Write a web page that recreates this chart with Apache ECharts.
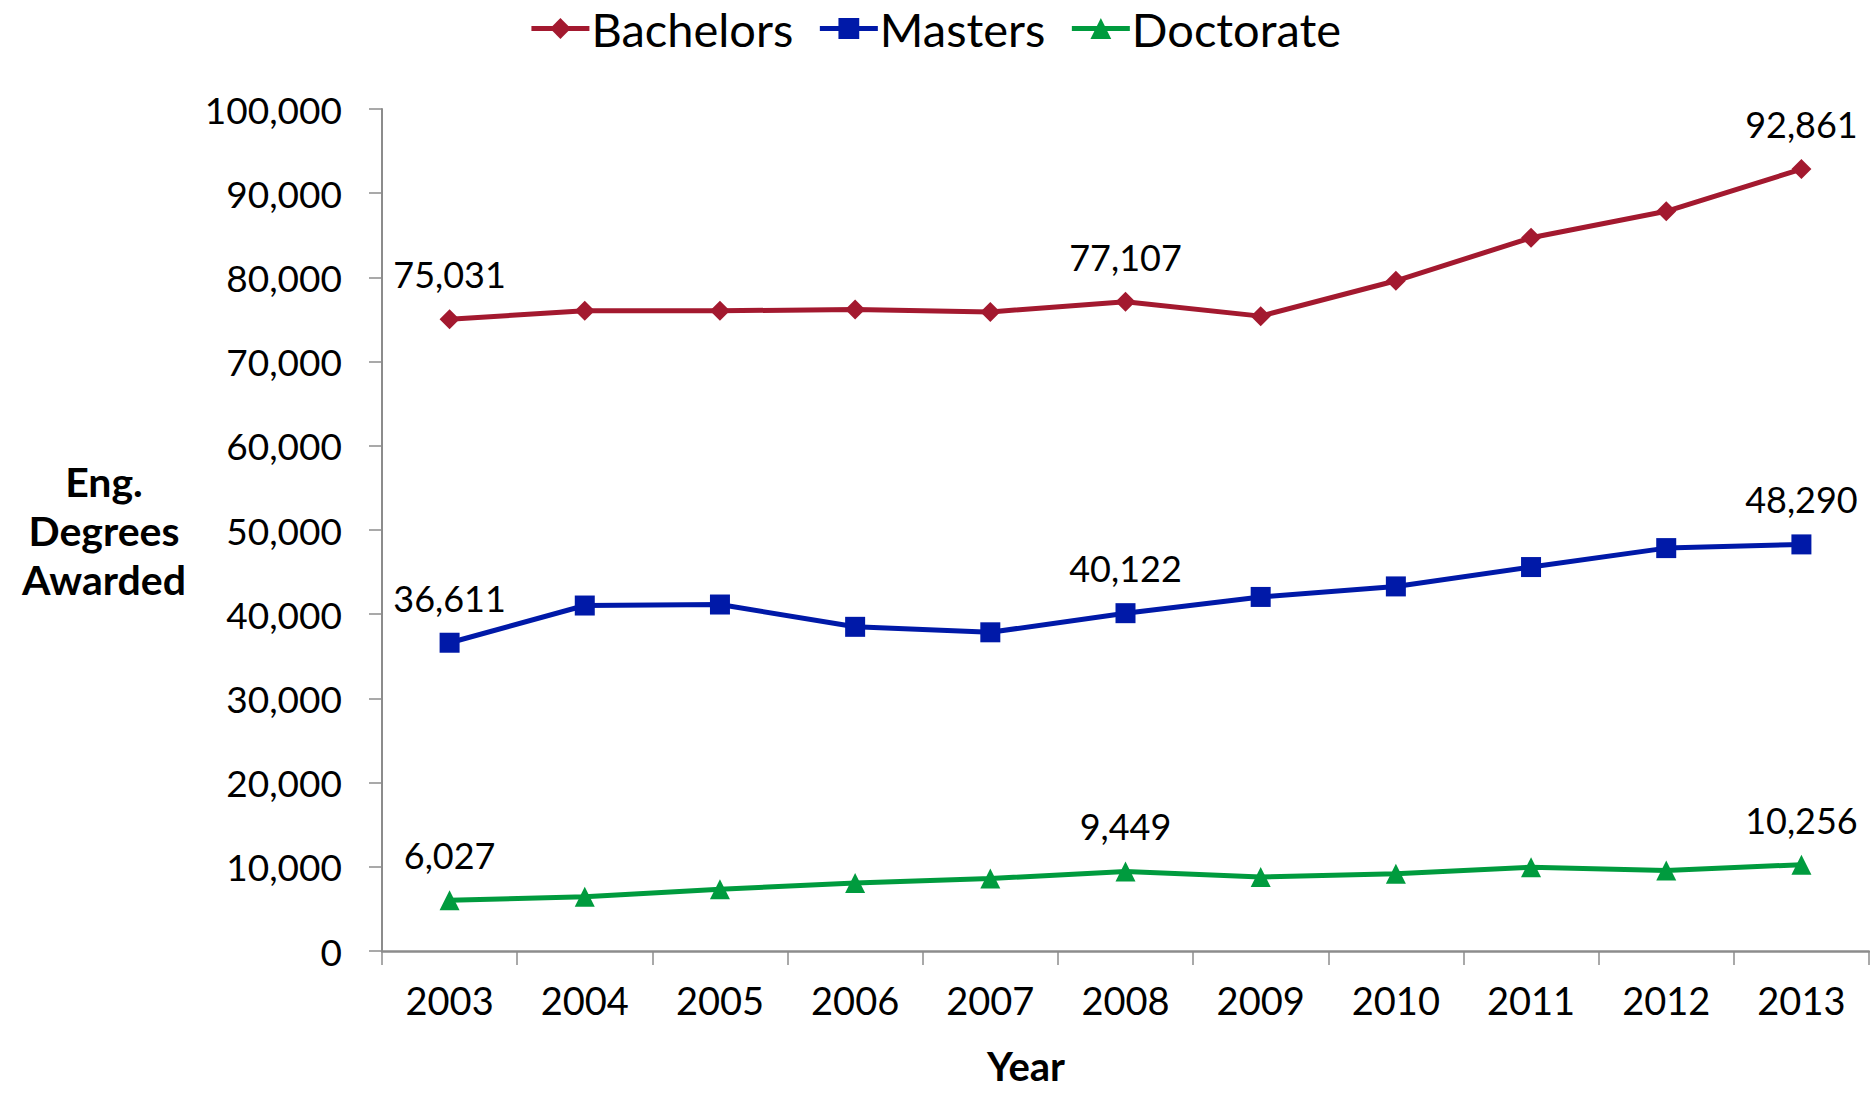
<!DOCTYPE html>
<html>
<head>
<meta charset="utf-8">
<style>
  html, body { margin: 0; padding: 0; background: #ffffff; }
  #chart { width: 1870px; height: 1095px; }
</style>
<script src="https://cdn.jsdelivr.net/npm/echarts@6/dist/echarts.min.js"></script>
</head>
<body>
<div id="chart"></div>
<script>
const years = ['2003','2004','2005','2006','2007','2008','2009','2010','2011','2012','2013'];
const bachelors = [75031, 76030, 76030, 76200, 75900, 77107, 75400, 79600, 84700, 87850, 92861];
const masters   = [36611, 41030, 41150, 38500, 37850, 40122, 42050, 43300, 45600, 47850, 48290];
const doctorate = [6027, 6430, 7330, 8090, 8610, 9449, 8780, 9180, 9960, 9570, 10256];
const labelledYears = ['2003', '2008', '2013'];
const yTicks = { min: 0, max: 100000, interval: 10000 };
const seriesNames = ['Bachelors', 'Masters', 'Doctorate'];

const FONT = 'Lato';
const fmt = v => Number(v).toLocaleString('en-US');

function buildData(values) {
  return values.map((v, i) => ({
    value: v,
    label: { show: labelledYears.indexOf(years[i]) >= 0 }
  }));
}

function lineSeries(name, values, color, symbol) {
  return {
    name: name,
    type: 'line',
    data: buildData(values),
    symbol: symbol,
    symbolSize: 20,
    lineStyle: { color: color, width: 5 },
    itemStyle: { color: color },
    label: {
      position: 'top',
      distance: 17,
      color: '#000',
      fontFamily: FONT,
      fontSize: 36,
      formatter: p => fmt(p.value)
    },
    emphasis: { disabled: true },
    animation: false
  };
}

const chart = echarts.init(document.getElementById('chart'), null, { renderer: 'svg' });
chart.setOption({
  backgroundColor: '#ffffff',
  animation: false,
  legend: {
    top: 0,
    left: 'center',
    itemWidth: 58,
    itemHeight: 26,
    itemGap: 24,
    lineStyle: { width: 5 },
    textStyle: { fontFamily: FONT, fontSize: 47, color: '#000', padding: [0, 0, 0, -3] },
    data: seriesNames
  },
  grid: { left: 382, right: 1, top: 109, bottom: 144, containLabel: false },
  xAxis: {
    type: 'category',
    data: years,
    boundaryGap: true,
    axisLine: { lineStyle: { color: '#8c8c8c', width: 2.5 } },
    axisTick: { show: true, length: 14, inside: false, lineStyle: { color: '#8c8c8c', width: 1.5 } },
    axisLabel: { fontFamily: FONT, fontSize: 38, color: '#000', margin: 30 },
    splitLine: { show: false }
  },
  yAxis: {
    type: 'value',
    min: yTicks.min,
    max: yTicks.max,
    interval: yTicks.interval,
    axisLine: { show: true, lineStyle: { color: '#8c8c8c', width: 2 } },
    axisTick: { show: true, length: 13, lineStyle: { color: '#8c8c8c', width: 1.5 } },
    axisLabel: { fontFamily: FONT, fontSize: 37, color: '#000', margin: 40, formatter: v => fmt(v) },
    splitLine: { show: false }
  },
  graphic: [
    {
      type: 'text',
      x: 104, y: 530,
      style: {
        text: 'Eng.\nDegrees\nAwarded',
        fontFamily: FONT, fontSize: 41, fontWeight: 'bold', fill: '#000',
        align: 'center', verticalAlign: 'middle', lineHeight: 49
      }
    },
    {
      type: 'text',
      x: 1026, y: 1066,
      style: {
        text: 'Year', fontFamily: FONT, fontSize: 40, fontWeight: 'bold', fill: '#000',
        align: 'center', verticalAlign: 'middle'
      }
    }
  ],
  series: [
    lineSeries(seriesNames[0], bachelors, '#A3192F', 'diamond'),
    lineSeries(seriesNames[1], masters, '#0019A8', 'rect'),
    lineSeries(seriesNames[2], doctorate, '#009B3E', 'triangle')
  ]
});
</script>
</body>
</html>
